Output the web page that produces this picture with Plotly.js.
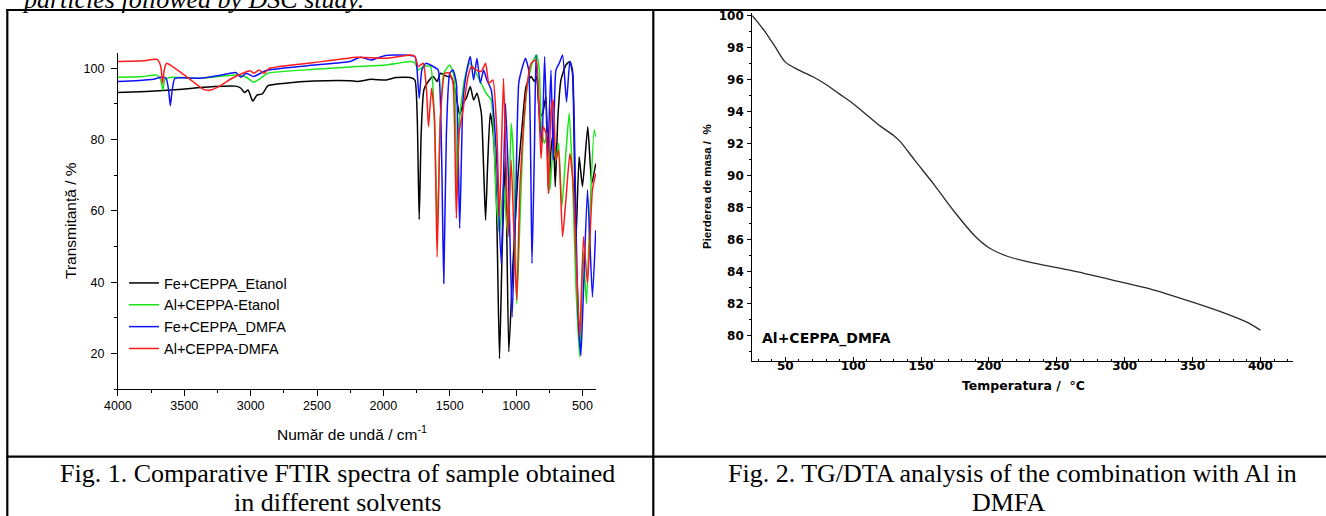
<!DOCTYPE html>
<html>
<head>
<meta charset="utf-8">
<script src="https://cdn.plot.ly/plotly-3.0.1.min.js"></script>
<style>
  html, body { margin: 0; padding: 0; background: #ffffff; }
  #chart { width: 1326px; height: 516px; }
</style>
</head>
<body>
<div id="chart"></div>
<script>
// ---------- FTIR data (wavenumber cm-1, transmittance %) ----------
const feEtanolX = [4000,3785,3597,3435,3274,3113,3073,3046,3019,2984,2952,2911,2871,2737,2522,2253,2199,2092,1984,1903,1796,1762,1745,1730,1715,1695,1662,1625,1595,1570,1525,1487,1455,1425,1400,1375,1345,1320,1295,1262,1245,1230,1215,1195,1175,1150,1125,1105,1080,1055,1025,987,955,925,887,862,845,820,800,775,755,737,720,705,685,662,625,595,575,550,525,500,460,430,400];
const feEtanolY = [93.2,93.5,93.9,94.4,94.9,95.0,94.4,93.2,93.9,90.8,92.5,92.8,95.1,95.8,96.4,96.5,96.3,96.9,96.7,97.4,97.4,96.7,86.4,57.6,81.8,93.9,96.3,97.7,96.3,98.6,97.8,97.5,93.0,86.9,90.2,91.6,94.9,91.1,93.0,87.4,72.4,57.4,72.4,87.4,82.7,65.9,18.6,49.0,75.2,20.5,44.3,69.6,83.6,94.9,97.7,96.3,97.7,86.4,87.4,92.0,64.9,77.1,81.8,66.8,86.4,96.7,100.9,101.9,98.6,50.9,75.2,66.8,83.6,67.7,73.3];

const alEtanolX = [4000,3812,3704,3677,3661,3645,3597,3382,3113,3032,2979,2925,2871,2522,2199,1984,1796,1762,1737,1700,1645,1617,1592,1570,1545,1500,1467,1445,1425,1387,1350,1312,1275,1225,1187,1150,1125,1095,1062,1037,1020,995,970,945,912,875,845,825,810,787,762,745,720,700,680,655,625,600,575,550,520,495,470,445,412,400];
const alEtanolY = [97.5,97.7,98.1,96.7,93.9,96.9,97.5,97.2,98.1,97.5,96.1,97.2,98.6,99.7,100.5,100.9,101.9,101.6,99.5,100.5,100.5,86.4,55.6,86.4,98.6,100.9,97.7,64.0,86.4,97.2,101.4,99.5,96.7,93.0,91.1,63.0,53.7,67.7,52.8,84.6,75.2,34.0,58.4,81.8,95.8,101.9,103.7,99.5,83.6,79.0,81.8,65.9,78.0,74.3,79.0,61.2,76.1,87.4,69.6,39.7,19.1,49.0,34.0,58.4,82.7,80.8];

const feDmfaX = [4000,3866,3731,3677,3637,3618,3605,3591,3570,3382,3220,3113,3073,3032,2979,2925,2871,2522,2253,2172,2092,1984,1850,1782,1762,1750,1730,1710,1680,1625,1587,1562,1545,1525,1500,1475,1450,1425,1400,1375,1345,1320,1295,1270,1245,1220,1187,1150,1112,1080,1055,1030,1005,980,955,930,905,880,862,850,825,805,785,762,737,720,700,675,650,620,595,575,550,532,512,495,462,425,400];
const feDmfaY = [96.3,96.5,96.9,97.5,97.2,93.9,89.5,93.9,97.2,97.2,98.1,98.8,97.5,98.6,97.7,98.6,99.5,100.9,101.9,103.1,102.3,103.6,103.7,103.5,103.3,101.4,91.6,99.5,101.4,100.5,99.5,77.1,39.7,81.8,98.6,99.5,95.8,55.1,91.1,98.6,103.3,96.7,102.8,95.8,99.5,96.7,93.9,77.1,45.3,90.2,65.9,30.3,58.4,95.8,100.0,102.8,99.5,45.3,77.1,103.7,86.4,79.0,103.3,75.2,99.5,74.3,99.5,101.4,103.7,90.6,101.9,99.5,58.4,30.3,19.5,35.0,65.9,35.9,54.6];

const alDmfaX = [4000,3812,3704,3677,3664,3651,3634,3597,3516,3435,3355,3301,3220,3140,3059,3005,2973,2938,2898,2858,2522,2199,1984,1796,1762,1737,1700,1675,1660,1637,1615,1595,1570,1537,1500,1475,1450,1430,1400,1362,1337,1300,1262,1230,1205,1175,1145,1125,1095,1080,1060,1037,1012,995,970,925,887,850,830,812,795,775,757,737,720,700,680,650,625,595,570,545,520,492,462,425,400];
const alDmfaY = [101.9,102.1,102.5,100.5,95.8,99.5,101.4,100.7,98.6,96.3,94.1,93.9,95.3,97.2,98.6,99.3,98.6,99.5,98.6,100.0,101.6,103.1,102.8,103.7,103.3,100.5,101.4,93.9,83.6,94.4,86.4,47.1,86.4,98.6,98.6,95.8,57.9,81.8,88.3,97.7,100.5,99.5,99.1,101.4,95.8,96.7,81.8,58.4,97.2,79.0,52.8,74.3,49.0,35.0,67.7,93.0,101.4,102.3,91.1,74.7,83.6,81.8,64.9,88.3,91.1,74.3,77.1,52.8,63.0,76.1,67.7,44.3,24.7,52.8,39.7,65.9,70.5];

const ftirNames = ['Fe+CEPPA_Etanol', 'Al+CEPPA-Etanol', 'Fe+CEPPA_DMFA', 'Al+CEPPA-DMFA'];
const ftirColors = ['#000000', '#19e619', '#1010ff', '#ff1a1a'];

// ---------- TG data (temperature °C, mass %) ----------
const tgTemp = [25.6,29.6,35.9,42.2,50,60,70,80,90,100,110,120,130,135,145,160,175,190,200,214,230,250,270,300,318,350,374,390,400];
const tgMass = [100,99.6,98.9,98.1,97.1,96.6,96.2,95.7,95.1,94.5,93.8,93.1,92.5,92.1,91.0,89.4,87.7,86.2,85.5,84.95,84.6,84.25,83.9,83.3,82.95,82.1,81.4,80.85,80.35];

const ftirX = [feEtanolX, alEtanolX, feDmfaX, alDmfaX];
const ftirY = [feEtanolY, alEtanolY, feDmfaY, alDmfaY];

const W = 1326, H = 516;
const px = v => v / W;
const py = v => (H - v) / H;

const traces = ftirNames.map((n, i) => ({
  type: 'scatter', mode: 'lines', name: n,
  x: ftirX[i], y: ftirY[i], xaxis: 'x', yaxis: 'y',
  line: { color: ftirColors[i], width: 1.5, shape: 'spline', smoothing: 0.5 }
}));
traces.push({
  type: 'scatter', mode: 'lines', name: 'Al+CEPPA_DMFA TG', showlegend: false,
  x: tgTemp, y: tgMass, xaxis: 'x2', yaxis: 'y2',
  line: { color: '#2a2a2a', width: 1.3, shape: 'spline', smoothing: 0.8 }
});

const sans = 'Liberation Sans, Arial, sans-serif';
const serif = 'Liberation Serif, Times New Roman, serif';
const wide = 'DejaVu Sans, Verdana, sans-serif';

const baseAxis = {
  showline: true, linecolor: '#000', linewidth: 1, showgrid: false, zeroline: false,
  tickcolor: '#000', tickwidth: 1, fixedrange: true
};

function note(text, x, y, font, extra) {
  return Object.assign({
    text: text, xref: 'paper', yref: 'paper', x: px(x), y: py(y),
    xanchor: 'center', yanchor: 'middle', showarrow: false, font: font
  }, extra || {});
}

const layout = {
  width: W, height: H,
  margin: { l: 0, r: 0, t: 0, b: 0, pad: 0 },
  paper_bgcolor: '#ffffff', plot_bgcolor: 'rgba(0,0,0,0)',
  showlegend: true,
  legend: {
    x: px(124), y: py(267), xanchor: 'left', yanchor: 'top',
    font: { family: sans, size: 14.5, color: '#000' },
    bgcolor: 'rgba(0,0,0,0)', borderwidth: 0, tracegroupgap: 0, itemwidth: 30
  },
  xaxis: Object.assign({}, baseAxis, {
    domain: [px(117.9), px(596)], range: [4000, 398], anchor: 'y',
    ticks: 'outside', ticklen: 6, dtick: 500, tick0: 0,
    minor: { dtick: 250, ticks: 'outside', ticklen: 3, tickcolor: '#000' },
    tickfont: { family: sans, size: 12.5, color: '#000' }, ticklabelstandoff: -1
  }),
  yaxis: Object.assign({}, baseAxis, {
    domain: [py(389.3), py(53.3)], range: [10, 104.2], anchor: 'x',
    ticks: 'outside', ticklen: 6, dtick: 20, tick0: 0,
    minor: { dtick: 10, ticks: 'outside', ticklen: 3, tickcolor: '#000' },
    tickfont: { family: sans, size: 12.5, color: '#000' }, ticklabelstandoff: 4
  }),
  xaxis2: Object.assign({}, baseAxis, {
    domain: [px(752.2), px(1293)], range: [25.6, 424], anchor: 'y2',
    ticks: 'inside', ticklen: 4, dtick: 50, tick0: 0,
    minor: { dtick: 10, ticks: 'inside', ticklen: 2.5, tickcolor: '#000' },
    tickfont: { family: wide, size: 12, weight: 'bold', color: '#000' }, ticklabelstandoff: -6
  }),
  yaxis2: Object.assign({}, baseAxis, {
    domain: [py(361), py(13.3)], range: [78.42, 100.15], anchor: 'x2',
    ticks: 'outside', ticklen: 4, dtick: 2, tick0: 0,
    minor: { dtick: 1, ticks: 'outside', ticklen: 2.5, tickcolor: '#000' },
    tickfont: { family: wide, size: 12, weight: 'bold', color: '#000' }, ticklabelstandoff: 1
  }),
  annotations: [
    note('Transmitanță / %', 70, 221, { family: sans, size: 15.5, color: '#000' }, { textangle: -90 }),
    note('Număr de undă / cm<sup>-1</sup>', 352, 433, { family: sans, size: 15.5, color: '#000' }),
    note('Pierderea de masa / &nbsp;%', 706.5, 186.5, { family: sans, size: 11.5, weight: 'bold', color: '#000' }, { textangle: -90 }),
    note('Temperatura / &nbsp;°C', 1023, 385, { family: wide, size: 12.5, weight: 'bold', color: '#000' }),
    note('Al+CEPPA_DMFA', 760, 338, { family: wide, size: 14, weight: 'bold', color: '#000' }, { xanchor: 'left' }),
    note('particles followed by DSC study.', 20, -0.5, { family: serif, size: 26, style: 'italic', color: '#000' }, { xanchor: 'left' }),
    note('Fig. 1. Comparative FTIR spectra of sample obtained', 337, 473, { family: serif, size: 26, color: '#000' }),
    note('in different solvents', 337, 502, { family: serif, size: 26, color: '#000' }),
    note('Fig. 2. TG/DTA analysis of the combination with Al in', 1013, 473, { family: serif, size: 26, color: '#000' }),
    note('DMFA', 1008, 502, { family: serif, size: 26, color: '#000' })
  ],
  shapes: [
    { type: 'line', xref: 'paper', yref: 'paper', x0: px(6.3), x1: 1.02, y0: py(10), y1: py(10), line: { color: '#000', width: 2.2 } },
    { type: 'line', xref: 'paper', yref: 'paper', x0: px(7.3), x1: px(7.3), y0: py(9), y1: -0.02, line: { color: '#000', width: 2.2 } },
    { type: 'line', xref: 'paper', yref: 'paper', x0: px(653.3), x1: px(653.3), y0: py(9), y1: -0.02, line: { color: '#000', width: 2.2 } },
    { type: 'line', xref: 'paper', yref: 'paper', x0: px(6.3), x1: 1.02, y0: py(456.7), y1: py(456.7), line: { color: '#000', width: 2.2 } }
  ]
};

Plotly.newPlot('chart', traces, layout, { staticPlot: true, displayModeBar: false });
</script>
</body>
</html>
